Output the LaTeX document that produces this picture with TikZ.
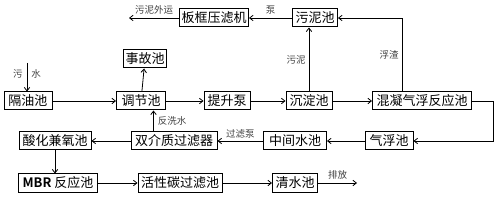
\documentclass[tikz,border=0pt]{standalone}
\usepackage{fontspec}
\setmainfont{Noto Sans CJK SC}[BoldFont={Noto Sans CJK SC Bold}]
\usepackage{tikz}
\usetikzlibrary{arrows.meta,calc}

\begin{document}
\begin{tikzpicture}[x=1pt,y=-1pt,>={Straight Barb[length=3.5pt,width=5.5pt]},
  caja/.style={draw,line width=1pt,minimum height=18pt,inner xsep=2pt,inner ysep=0pt,
    font=\fontsize{13}{13}\selectfont},
  etiq/.style={font=\fontsize{9.5}{9.5}\selectfont,text=black!75,inner sep=1pt},
  flujo/.style={->,line width=0.8pt}]
  \useasboundingbox (0,0) rectangle (500,216);

  % Fila superior
  \node[caja,minimum width=68pt] (bankuang) at (214,18) {板框压滤机};
  \node[caja,minimum width=45pt] (wunichi) at (315,18) {污泥池};
  \node[caja,minimum width=43pt] (shigu) at (145,59) {事故池};

  % Linea principal
  \node[caja,minimum width=48pt] (geyou) at (28,101) {隔油池};
  \node[caja,minimum width=49pt] (tiaojie) at (141,101) {调节池};
  \node[caja,minimum width=46pt] (tisheng) at (227,101) {提升泵};
  \node[caja,minimum width=46pt] (chendian) at (309,101) {沉淀池};
  \node[caja,minimum width=99pt] (hunning) at (422,101) {混凝气浮反应池};

  % Retorno
  \node[caja,minimum width=48pt] (qifu) at (389,141) {气浮池};
  \node[caja,minimum width=63pt] (zhongjian) at (295,141) {中间水池};
  \node[caja,minimum width=86pt] (shuangjie) at (174,141) {双介质过滤器};
  \node[caja,minimum width=72pt] (suanhua) at (55,141) {酸化兼氧池};

  % Fila inferior
  \node[caja,minimum width=79pt] (mbr) at (58,183) {\textbf{MBR} 反应池};
  \node[caja,minimum width=84pt] (huoxing) at (180,183) {活性碳过滤池};
  \node[caja,minimum width=45pt] (qingshui) at (295,183) {清水池};

  \coordinate (entrada) at (27,63);
  \coordinate (salida) at (129,18);
  \coordinate (vertido) at (357,183);
  \coordinate (fuzha) at ($(hunning.north west)+(30,0)$);
  \coordinate (fanxi) at ($(shuangjie.north west)+(23,0)$);

  \draw[flujo] (entrada) -- (geyou.north -| entrada)
    node[etiq,pos=0.4] {污\hspace{9pt}水};
  \draw[flujo] (geyou) -- (tiaojie);
  \draw[flujo] (tiaojie) -- (shigu);
  \draw[flujo] (tiaojie) -- (tisheng);
  \draw[flujo] (tisheng) -- (chendian);
  \draw[flujo] (chendian) -- (hunning);
  \draw[flujo] (chendian.north) -- (chendian.north |- wunichi.south)
    node[etiq,midway,left=2pt] {污泥};
  \draw[flujo] (fuzha) |- (wunichi.east)
    node[etiq,pos=0.25,left=2pt] {浮渣};
  \draw[flujo] (wunichi) -- (bankuang) node[etiq,midway,above=2pt] {泵};
  \draw[flujo] (bankuang.west) -- (salida) node[etiq,midway,above=2pt] {污泥外运};
  \draw[flujo] (hunning.east) -- ++(21,0) |- (qifu.east);
  \draw[flujo] (qifu) -- (zhongjian);
  \draw[flujo] (zhongjian) -- (shuangjie) node[etiq,midway,above=1pt] {过滤泵};
  \draw[flujo] (fanxi) -- (fanxi |- tiaojie.south)
    node[etiq,midway,right=3pt] {反洗水};
  \draw[flujo] (shuangjie) -- (suanhua);
  \draw[flujo] (suanhua.south) -- (suanhua.south |- mbr.north);
  \draw[flujo] (mbr) -- (huoxing);
  \draw[flujo] (huoxing) -- (qingshui);
  \draw[flujo] (qingshui.east) -- (vertido) node[etiq,midway,above=2pt] {排放};
\end{tikzpicture}
\end{document}
